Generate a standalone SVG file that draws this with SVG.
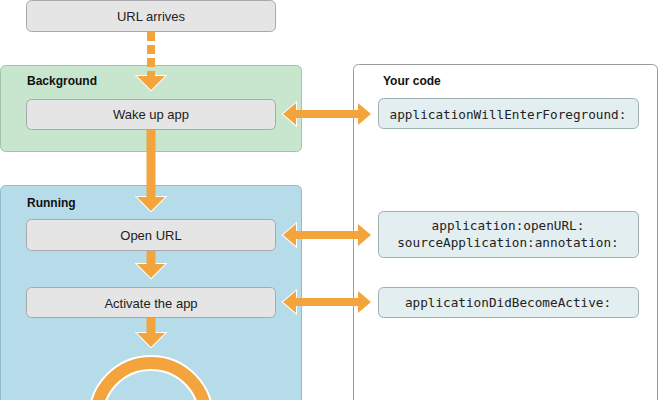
<svg xmlns="http://www.w3.org/2000/svg" width="659" height="400" viewBox="0 0 659 400">
<defs>
<style>
.step{fill:#e5e5e5;stroke:#a9a9a9;stroke-width:1}
.lbl{font-family:"Liberation Sans",Arial,sans-serif;font-size:13px;fill:#222;text-anchor:middle}
.ttl{font-family:"Liberation Sans",Arial,sans-serif;font-size:12px;font-weight:bold;fill:#111}
.code{fill:#e2eef0;stroke:#9fb0b3;stroke-width:1}
.mono{font-family:"DejaVu Sans Mono",Menlo,monospace;font-size:12.7px;fill:#222;text-anchor:middle}
.head{fill:#f4a43c;stroke:#fff;stroke-width:2;stroke-linejoin:miter;paint-order:stroke}
.shaft{fill:#f4a43c}
</style>
</defs>
<g id="background-state">
<rect x="0.5" y="65.5" width="301" height="86" rx="5" fill="#c8e5cd" stroke="#9fc6a6"/>
<text class="ttl" x="27" y="85">Background</text>
</g>
<g id="running-state">
<rect x="0.5" y="185.5" width="301" height="230" rx="5" fill="#b6dce9" stroke="#8fbccb"/>
<text class="ttl" x="27" y="207">Running</text>
</g>
<g id="your-code">
<rect x="353.5" y="64.5" width="304" height="350" rx="5" fill="#ffffff" stroke="#9c9c9c"/>
<text class="ttl" x="383" y="85">Your code</text>
</g>
<g id="url-arrives">
<rect class="step" x="26.5" y="0.5" width="249" height="31" rx="5"/>
<text class="lbl" x="151" y="21">URL arrives</text>
</g>
<g id="wake-up-app">
<rect class="step" x="26.5" y="99.5" width="249" height="30" rx="5"/>
<text class="lbl" x="151" y="119">Wake up app</text>
</g>
<g id="open-url">
<rect class="step" x="26.5" y="219.5" width="249" height="31" rx="5"/>
<text class="lbl" x="151" y="240">Open URL</text>
</g>
<g id="activate-app">
<rect class="step" x="26.5" y="287.5" width="249" height="30" rx="5"/>
<text class="lbl" x="151" y="308">Activate the app</text>
</g>
<g id="will-enter-foreground">
<rect class="code" x="378.5" y="98.5" width="260" height="30" rx="5"/>
<text class="mono" x="508" y="119">applicationWillEnterForeground:</text>
</g>
<g id="open-url-code">
<rect class="code" x="378.5" y="211.5" width="260" height="46" rx="5"/>
<text class="mono" x="508" y="230">application:openURL:</text>
<text class="mono" x="508" y="247">sourceApplication:annotation:</text>
</g>
<g id="did-become-active">
<rect class="code" x="378.5" y="287.5" width="260" height="30" rx="5"/>
<text class="mono" x="508" y="307">applicationDidBecomeActive:</text>
</g>
<g id="run-loop">
<circle cx="151" cy="418" r="55" fill="none" stroke="#ffffff" stroke-width="16"/>
<circle cx="151" cy="418" r="55" fill="none" stroke="#f4a43c" stroke-width="12"/>
</g>
<g id="connectors">
<!-- URL arrives -> Wake up (dashed) -->
<polygon class="head" points="137,76 165,76 151,90"/>
<line x1="151" y1="32" x2="151" y2="77" stroke="#f4a43c" stroke-width="8" stroke-dasharray="9,4"/>
<!-- Wake up -> Open URL -->
<polygon class="head" points="137,197 165,197 151,211"/>
<rect class="shaft" x="146.5" y="130" width="9" height="69"/>
<!-- Open URL -> Activate -->
<polygon class="head" points="137,264 165,264 151,278"/>
<rect class="shaft" x="146.5" y="251" width="9" height="15"/>
<!-- Activate -> run loop -->
<polygon class="head" points="137,333 165,333 151,347"/>
<rect class="shaft" x="146.5" y="318" width="9" height="17"/>
<!-- double arrows -->
<polygon class="head" points="296,103 283,114 296,125"/>
<polygon class="head" points="358,103 371,114 358,125"/>
<rect class="shaft" x="294" y="110" width="66" height="8"/>
<polygon class="head" points="296,224 283,235 296,246"/>
<polygon class="head" points="358,224 371,235 358,246"/>
<rect class="shaft" x="294" y="231" width="66" height="8"/>
<polygon class="head" points="296,291 283,302 296,313"/>
<polygon class="head" points="358,291 371,302 358,313"/>
<rect class="shaft" x="294" y="298" width="66" height="8"/>
</g>
</svg>
